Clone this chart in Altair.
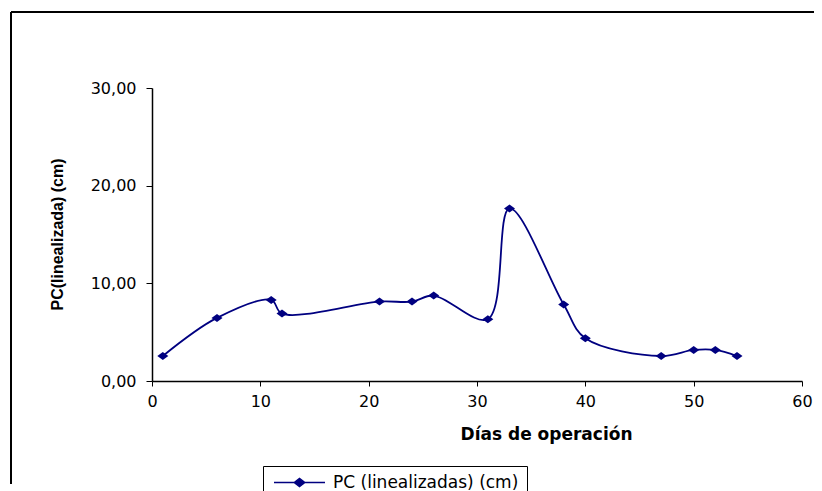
import altair as alt
import pandas as pd

dias = [1, 6, 11, 12, 21, 24, 26, 31, 33, 38, 40, 47, 50, 52, 54]
pc = [2.56, 6.46, 8.30, 6.90, 8.13, 8.13, 8.75, 6.33, 17.67, 7.83, 4.38, 2.56, 3.18, 3.18, 2.56]
serie = "PC (linealizadas) (cm)"

df = pd.DataFrame({"dias": dias, "pc": pc, "serie": [serie] * len(dias)})

NAVY = "#000080"
diamond = "M-1,0L0,-0.73L1,0L0,0.73Z"
legend_sym = "M-5.1,0L5.1,0M-1.05,0L0,-0.8L1.05,0L0,0.8Z"

x_enc = alt.X(
    "dias:Q",
    scale=alt.Scale(domain=[0, 60], nice=False),
    axis=alt.Axis(
        values=[0, 10, 20, 30, 40, 50, 60],
        title="Días de operación",
        titleFont="DejaVu Sans",
        titleFontSize=17,
        titleFontWeight="bold",
        titleX=394,
        titleY=53,
        titleAlign="center",
        titleBaseline="middle",
        labelFont="DejaVu Sans",
        labelFontSize=16,
        labelPadding=7,
        tickSize=5,
        grid=False,
        labelFlush=False,
    ),
)
y_enc = alt.Y(
    "pc:Q",
    scale=alt.Scale(domain=[0, 30], nice=False),
    axis=alt.Axis(
        values=[0, 10, 20, 30],
        labelExpr="replace(format(datum.value, '.2f'), '.', ',')",
        title="PC(linealizada) (cm)",
        titleFont="Liberation Sans",
        titleFontSize=16,
        titleFontWeight="bold",
        titleX=-95,
        titleY=146,
        titleAngle=270,
        titleAlign="center",
        titleBaseline="middle",
        labelFont="DejaVu Sans",
        labelFontSize=16,
        labelPadding=10,
        tickSize=6,
        grid=False,
    ),
)

top_rule = alt.Chart(df).mark_rule(color="black", strokeWidth=1.5).encode(
    x=alt.value(-141), x2=alt.value(662), y=alt.value(-76),
)
left_rule = alt.Chart(df).mark_rule(color="black", strokeWidth=1.5).encode(
    x=alt.value(-141), y=alt.value(-76), y2=alt.value(396),
)

line = alt.Chart(df).mark_line(
    interpolate="catmull-rom", color=NAVY, strokeWidth=1.8
).encode(x=x_enc, y=y_enc)

points = alt.Chart(df).mark_point(
    shape=diamond, size=121, filled=True, opacity=1
).encode(
    x="dias:Q",
    y="pc:Q",
    color=alt.Color(
        "serie:N",
        scale=alt.Scale(range=[NAVY]),
        legend=alt.Legend(
            title=None,
            orient="none",
            legendX=111,
            legendY=378,
            symbolType=legend_sym,
            symbolSize=100,
            symbolOffset=20,
            symbolStrokeWidth=1.5,
            symbolStrokeColor=NAVY,
            symbolFillColor=NAVY,
            labelFont="DejaVu Sans",
            labelFontSize=17,
            labelColor="black",
            labelOffset=25,
            labelLimit=400,
            padding=8,
            strokeColor="black",
            fillColor="white",
        ),
    ),
)

chart = alt.layer(top_rule, left_rule, line, points).properties(
    width=650,
    height=293,
    autosize=alt.AutoSizeParams(type="none"),
    padding={"left": 144, "top": 80, "right": 12, "bottom": 110},
).configure_view(stroke=None).configure_axis(
    domainColor="black", tickColor="black", labelColor="black", titleColor="black",
    domainWidth=1.5,
)

chart.save("out.html", embed_options={"renderer": "svg", "actions": False})
